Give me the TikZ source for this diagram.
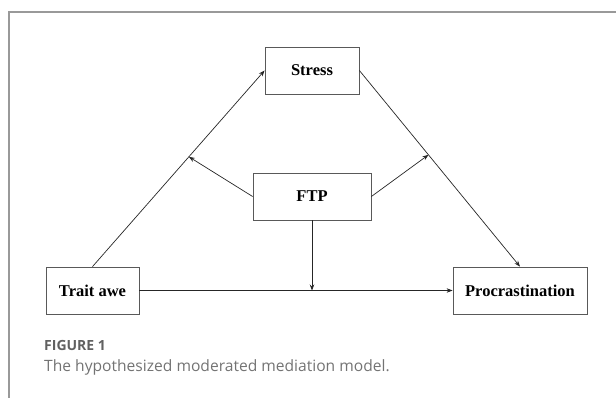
\documentclass[tikz,border=0pt]{standalone}
\usepackage{fontspec}
\setmainfont{Liberation Serif}
\newfontfamily\capfont{Open Sans}
\usetikzlibrary{arrows.meta,calc}

\begin{document}
\begin{tikzpicture}[x=1pt,y=-1pt,
    var/.style={rectangle,draw=black!65,line width=0.8pt,minimum height=47pt,inner sep=0pt,
      font=\fontsize{16.5}{18}\selectfont\bfseries},
    link/.style={draw=black!85,line width=0.7pt,-{Stealth[length=6pt,width=4.5pt]}},
    capt/.style={anchor=base west,inner sep=0pt}]
  \useasboundingbox (0,0) rectangle (616,398);
  % figure frame
  \draw[black!40,line width=1.2pt] (616,12) -- (9,12) -- (9,398);
  % variables
  \node[var,minimum width=94pt] (stress) at (312,70.5) {Stress};
  \node[var,minimum width=118pt] (ftp) at (312,196.5) {FTP};
  \node[var,minimum width=93pt] (trait) at (92.5,290.5) {Trait awe};
  \node[var,minimum width=134pt] (procr) at (520,290.5) {Procrastination};
  % paths
  \draw[link] (trait.north) -- (stress.west);
  \draw[link] (stress.east) -- (procr.north);
  \draw[link] (trait.east) -- (procr.west);
  % moderation by FTP
  \coordinate (modA) at ($(trait.north)!0.56!(stress.west)$);
  \coordinate (modB) at ($(stress.east)!0.43!(procr.north)$);
  \coordinate (modC) at (ftp.south |- trait.east);
  \draw[link] (ftp.west) -- (modA);
  \draw[link] (ftp.east) -- (modB);
  \draw[link] (ftp.south) -- (modC);
  % caption
  \node[capt,text=black!62,font=\capfont\bfseries\fontsize{14}{16}\selectfont] (fig) at (44,350) {FIGURE 1};
  \node[capt,text=black!55,font=\capfont\fontsize{15.6}{18}\selectfont] (cap) at (44,371) {The hypothesized moderated mediation model.};
\end{tikzpicture}
\end{document}
